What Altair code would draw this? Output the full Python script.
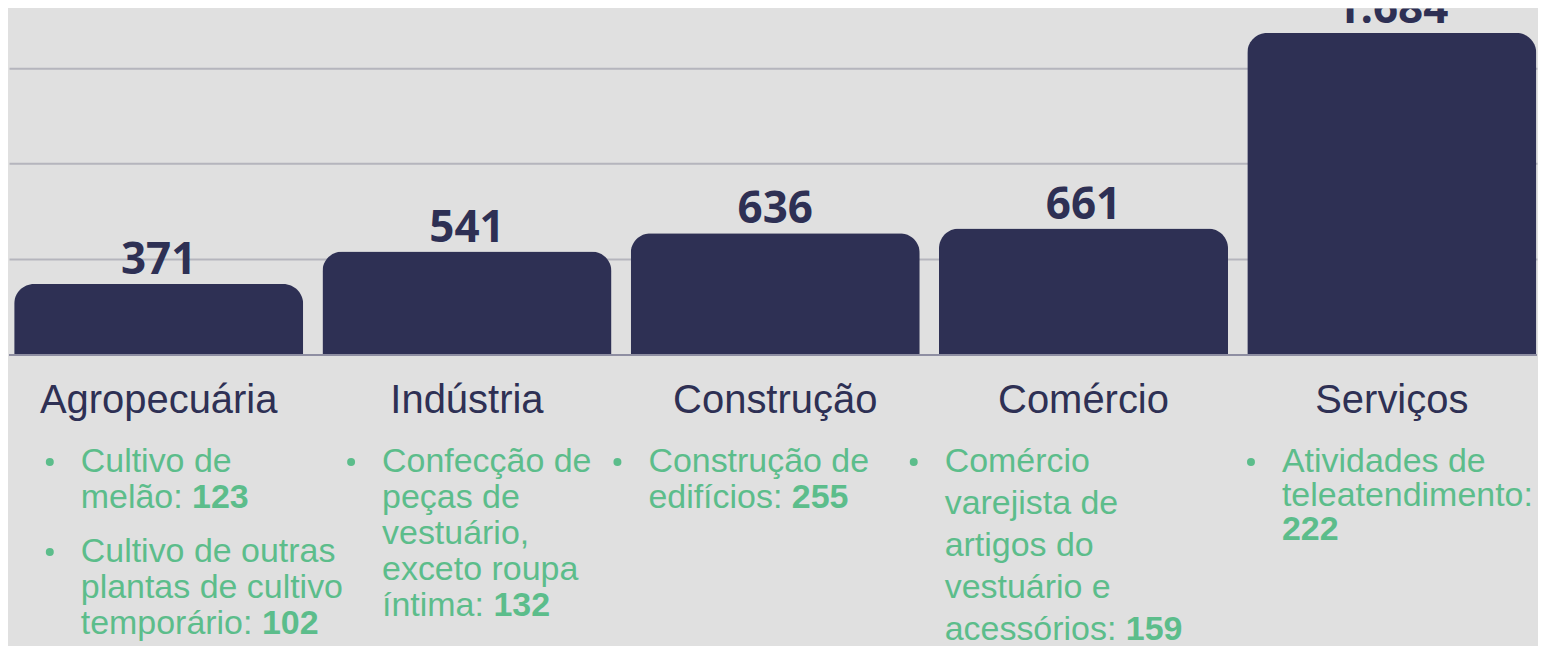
import altair as alt
import pandas as pd

# ---------------- data ----------------
categories = ["Agropecuária", "Indústria", "Construção", "Comércio", "Serviços"]
totals = [371, 541, 636, 661, 1684]

activity_category = ["Agropecuária", "Agropecuária", "Indústria", "Construção", "Comércio", "Serviços"]
activity_lines = [
    ["Cultivo de", "melão:"],
    ["Cultivo de outras", "plantas de cultivo", "temporário:"],
    ["Confecção de", "peças de", "vestuário,", "exceto roupa", "íntima:"],
    ["Construção de", "edifícios:"],
    ["Comércio", "varejista de", "artigos do", "vestuário e", "acessórios:"],
    ["Atividades de", "teleatendimento:"],
]
activity_values = [123, 102, 132, 255, 159, 222]

# ---------------- styles ----------------
NAVY = "#2e3054"
GREEN = "#5cbd8b"
BG = "#e0e0e0"
GRID = "#b5b5bd"
BASE = "#8e8ea2"
TXT_FONT = "Liberation Sans"
NUM_FONT = "Open Sans"
BULLET_SIZE = 34
TITLE_SIZE = 40
VALUE_SIZE = 44
BULLET_GAP = 31
# left edge of the bullet text relative to the bar centre (layout style per column)
COLUMN_DX = {"Agropecuária": -78, "Indústria": -85, "Construção": -127,
             "Comércio": -139, "Serviços": -110}
LINE_SPACING = {"Comércio": 1.17, "Serviços": 0.95}
VALUE_OWN_LINE = {"Serviços"}
FIRST_ROW = 1.7
ITEM_GAP = 0.5

W_TOTAL = 1530
H_TOP = 347
H_BOTTOM = 290
ROW_PX = 36
P_INNER, P_OUTER, ALIGN = 0.0625, 0.0095, 0.88
STEP = W_TOTAL / (len(categories) - P_INNER + 2 * P_OUTER)
BANDWIDTH = STEP * (1 - P_INNER)

# Arial / Liberation Sans advance widths (per 1000 em)
ADV = {' ': 278, ':': 278, ',': 278, '.': 278,
       'a': 556, 'b': 556, 'c': 500, 'd': 556, 'e': 556, 'f': 278, 'g': 556, 'h': 556,
       'i': 222, 'j': 222, 'k': 500, 'l': 222, 'm': 833, 'n': 556, 'o': 556, 'p': 556,
       'q': 556, 'r': 333, 's': 500, 't': 278, 'u': 556, 'v': 500, 'w': 722, 'x': 500,
       'y': 500, 'z': 500, 'á': 556, 'ã': 556, 'é': 556, 'í': 278, 'ó': 556, 'ú': 556,
       'ç': 500, 'A': 667, 'C': 722, 'I': 278, 'S': 667}


def text_width(s, size):
    return sum(ADV.get(ch, 556) for ch in s) * size / 1000.0


# ---------------- tables ----------------
df_tot = pd.DataFrame({
    "cat": categories,
    "total": totals,
    "label": [f"{v:,}".replace(",", ".") for v in totals],
})

line_rows, num_rows, dot_rows = [], [], []
next_row = {c: FIRST_ROW for c in categories}
for cat, lines, val in zip(activity_category, activity_lines, activity_values):
    sp = LINE_SPACING.get(cat, 1.0)
    col = BANDWIDTH / 2 + COLUMN_DX[cat]   # xOffset is measured from the band start
    r = next_row[cat]
    dot_rows.append({"cat": cat, "row": r, "off": col - BULLET_GAP})
    for i, ln in enumerate(lines):
        line_rows.append({"cat": cat, "row": r + i * sp, "text": ln, "off": col})
    last = r + (len(lines) - 1) * sp
    if cat in VALUE_OWN_LINE:
        num_rows.append({"cat": cat, "row": last + sp, "text": str(val), "off": col})
        last = last + sp
    else:
        num_rows.append({"cat": cat, "row": last, "text": str(val),
                         "off": col + text_width(lines[-1] + " ", BULLET_SIZE)})
    next_row[cat] = last + sp + ITEM_GAP

df_lines = pd.DataFrame(line_rows)
df_nums = pd.DataFrame(num_rows)
df_dots = pd.DataFrame(dot_rows)
df_titles = pd.DataFrame({"cat": categories, "row": [0.0] * len(categories)})

# ---------------- scales ----------------
x_scale = alt.Scale(domain=categories, paddingInner=P_INNER, paddingOuter=P_OUTER, align=ALIGN)
x_enc = alt.X("cat:N", scale=x_scale, axis=None, sort=categories)
x_off = alt.XOffset("off:Q", scale=None)
top_row = -45 / ROW_PX
row_scale = alt.Scale(domain=[top_row, top_row + H_BOTTOM / ROW_PX], reverse=True, nice=False, zero=False)
y_row = alt.Y("row:Q", scale=row_scale, axis=None)

# ---------------- top panel ----------------
base_top = alt.Chart(df_tot)
bars = base_top.mark_bar(color=NAVY, cornerRadiusTopLeft=20, cornerRadiusTopRight=20).encode(
    x=x_enc,
    y=alt.Y("total:Q", scale=alt.Scale(domain=[0, 1812], nice=False),
            axis=alt.Axis(values=[500, 1000, 1500], labels=False, ticks=False, domain=False,
                          grid=True, gridColor=GRID, gridWidth=2, title=None, minExtent=0)),
)
value_labels = base_top.mark_text(font=NUM_FONT, fontWeight="bold", fontSize=VALUE_SIZE,
                                  color=NAVY, baseline="alphabetic", dy=-10, clip=True).encode(
    x=x_enc, y="total:Q", text="label:N")
baseline = alt.Chart(df_tot).mark_rule(color=BASE, strokeWidth=2).encode(y=alt.datum(0))
top = alt.layer(bars, baseline, value_labels).properties(width=W_TOTAL, height=H_TOP)

# ---------------- bottom panel ----------------
titles = alt.Chart(df_titles).mark_text(font=TXT_FONT, fontSize=TITLE_SIZE, color=NAVY,
                                        baseline="middle").encode(
    x=x_enc, y=y_row, text="cat:N")
lines_txt = alt.Chart(df_lines).mark_text(font=TXT_FONT, fontSize=BULLET_SIZE, color=GREEN,
                                          align="left", baseline="middle", clip=True).encode(
    x=x_enc, y=y_row, text="text:N", xOffset=x_off)
nums_txt = alt.Chart(df_nums).mark_text(font=TXT_FONT, fontSize=BULLET_SIZE, fontWeight="bold",
                                        color=GREEN, align="left", baseline="middle",
                                        clip=True).encode(
    x=x_enc, y=y_row, text="text:N", xOffset=x_off)
dots = alt.Chart(df_dots).mark_circle(color=GREEN, opacity=1, size=64).encode(
    x=x_enc, y=y_row, xOffset=x_off)
bottom = alt.layer(titles, lines_txt, nums_txt, dots).properties(width=W_TOTAL, height=H_BOTTOM)

chart = alt.vconcat(top, bottom, spacing=0).properties(padding=0).configure(
    background=BG).configure_view(stroke=None)

chart.save("out.html", embed_options={"renderer": "svg", "actions": False})
